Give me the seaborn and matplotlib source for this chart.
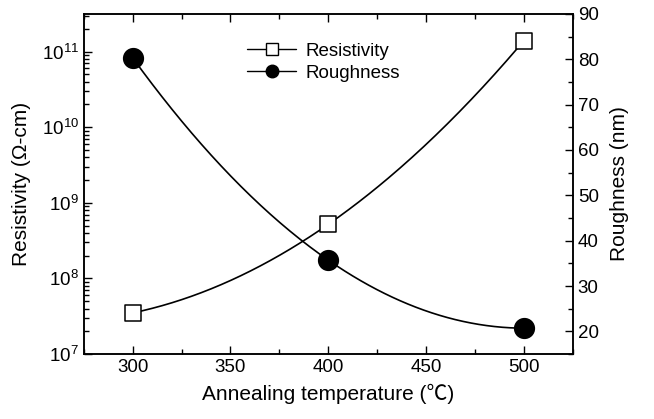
import numpy as np
import pandas as pd
import seaborn as sns
import matplotlib
matplotlib.use('Agg')
import matplotlib.pyplot as plt
from matplotlib.lines import Line2D
from matplotlib.ticker import MultipleLocator, LogLocator

# data
temp = [300, 400, 500]
resistivity = [3.5e7, 5.2e8, 1.4e11]
roughness = [80.3, 35.7, 20.7]

sns.set_style('ticks')
plt.rcParams['font.family'] = ['Liberation Sans', 'Noto Sans CJK SC', 'DejaVu Sans']
plt.rcParams['mathtext.fontset'] = 'custom'
plt.rcParams['mathtext.rm'] = 'Liberation Sans'
plt.rcParams['mathtext.it'] = 'Liberation Sans:italic'
plt.rcParams['axes.linewidth'] = 1.1
for k in ['text.color', 'axes.labelcolor', 'xtick.color', 'ytick.color', 'axes.edgecolor']:
    plt.rcParams[k] = 'black'

df = pd.DataFrame({'temp': temp, 'res': resistivity, 'rough': roughness})

# smooth guide curves through the points (quadratic, like the Origin spline)
xs = np.linspace(300, 500, 200)
c_res = np.polyfit(df['temp'], np.log10(df['res']), 2)
c_rough = np.polyfit(df['temp'], df['rough'], 2)
curve = pd.DataFrame({'x': xs,
                      'res': 10 ** np.polyval(c_res, xs),
                      'rough': np.polyval(c_rough, xs)})

fig = plt.figure(figsize=(6.54, 4.19), dpi=100)
ax = fig.add_axes([0.128, 0.155, 0.748, 0.812])
ax2 = ax.twinx()

sns.lineplot(data=curve, x='x', y='res', ax=ax, color='black', lw=1.2)
sns.scatterplot(data=df, x='temp', y='res', ax=ax, marker='s', s=130,
                facecolor='white', edgecolor='black', linewidth=1.1, zorder=5)
sns.lineplot(data=curve, x='x', y='rough', ax=ax2, color='black', lw=1.2)
sns.scatterplot(data=df, x='temp', y='rough', ax=ax2, marker='o', s=200,
                color='black', edgecolor='black', zorder=5)

ax.set_yscale('log')
ax.set_ylim(1e7, 10 ** 11.5)
ax.set_xlim(275, 525)
ax2.set_ylim(15, 90)

ax.xaxis.set_major_locator(MultipleLocator(50))
ax.xaxis.set_minor_locator(MultipleLocator(25))
ax.yaxis.set_major_locator(LogLocator(base=10, numticks=10))
ax.yaxis.set_minor_locator(LogLocator(base=10, subs=np.arange(2, 10), numticks=20))
ax2.yaxis.set_major_locator(MultipleLocator(10))
ax2.yaxis.set_minor_locator(MultipleLocator(5))

ax.tick_params(axis='x', which='both', direction='in', top=True, labelsize=13.5)
ax.tick_params(axis='y', which='both', direction='in', right=False, labelsize=13.5)
ax2.tick_params(axis='y', which='both', direction='in', labelsize=13.5)
for a in (ax, ax2):
    a.tick_params(which='major', length=6, width=1.0)
    a.tick_params(which='minor', length=3.5, width=1.0)

ax.set_xlabel('Annealing temperature (℃)', fontsize=15, labelpad=6)
ax.set_ylabel('Resistivity (Ω-cm)', fontsize=15, labelpad=8)
ax2.set_ylabel('Roughness (nm)', fontsize=15, labelpad=8)

handles = [Line2D([], [], color='black', lw=1.0, marker='s', ms=8,
                  mfc='white', mec='black'),
           Line2D([], [], color='black', lw=1.0, marker='o', ms=9,
                  mfc='black', mec='black')]
ax.legend(handles, ['Resistivity', 'Roughness'], loc='upper left',
          bbox_to_anchor=(0.30, 0.965), frameon=False, fontsize=13.5,
          handlelength=2.6, handletextpad=0.5, labelspacing=0.25)

fig.savefig('out.png', dpi=100)
